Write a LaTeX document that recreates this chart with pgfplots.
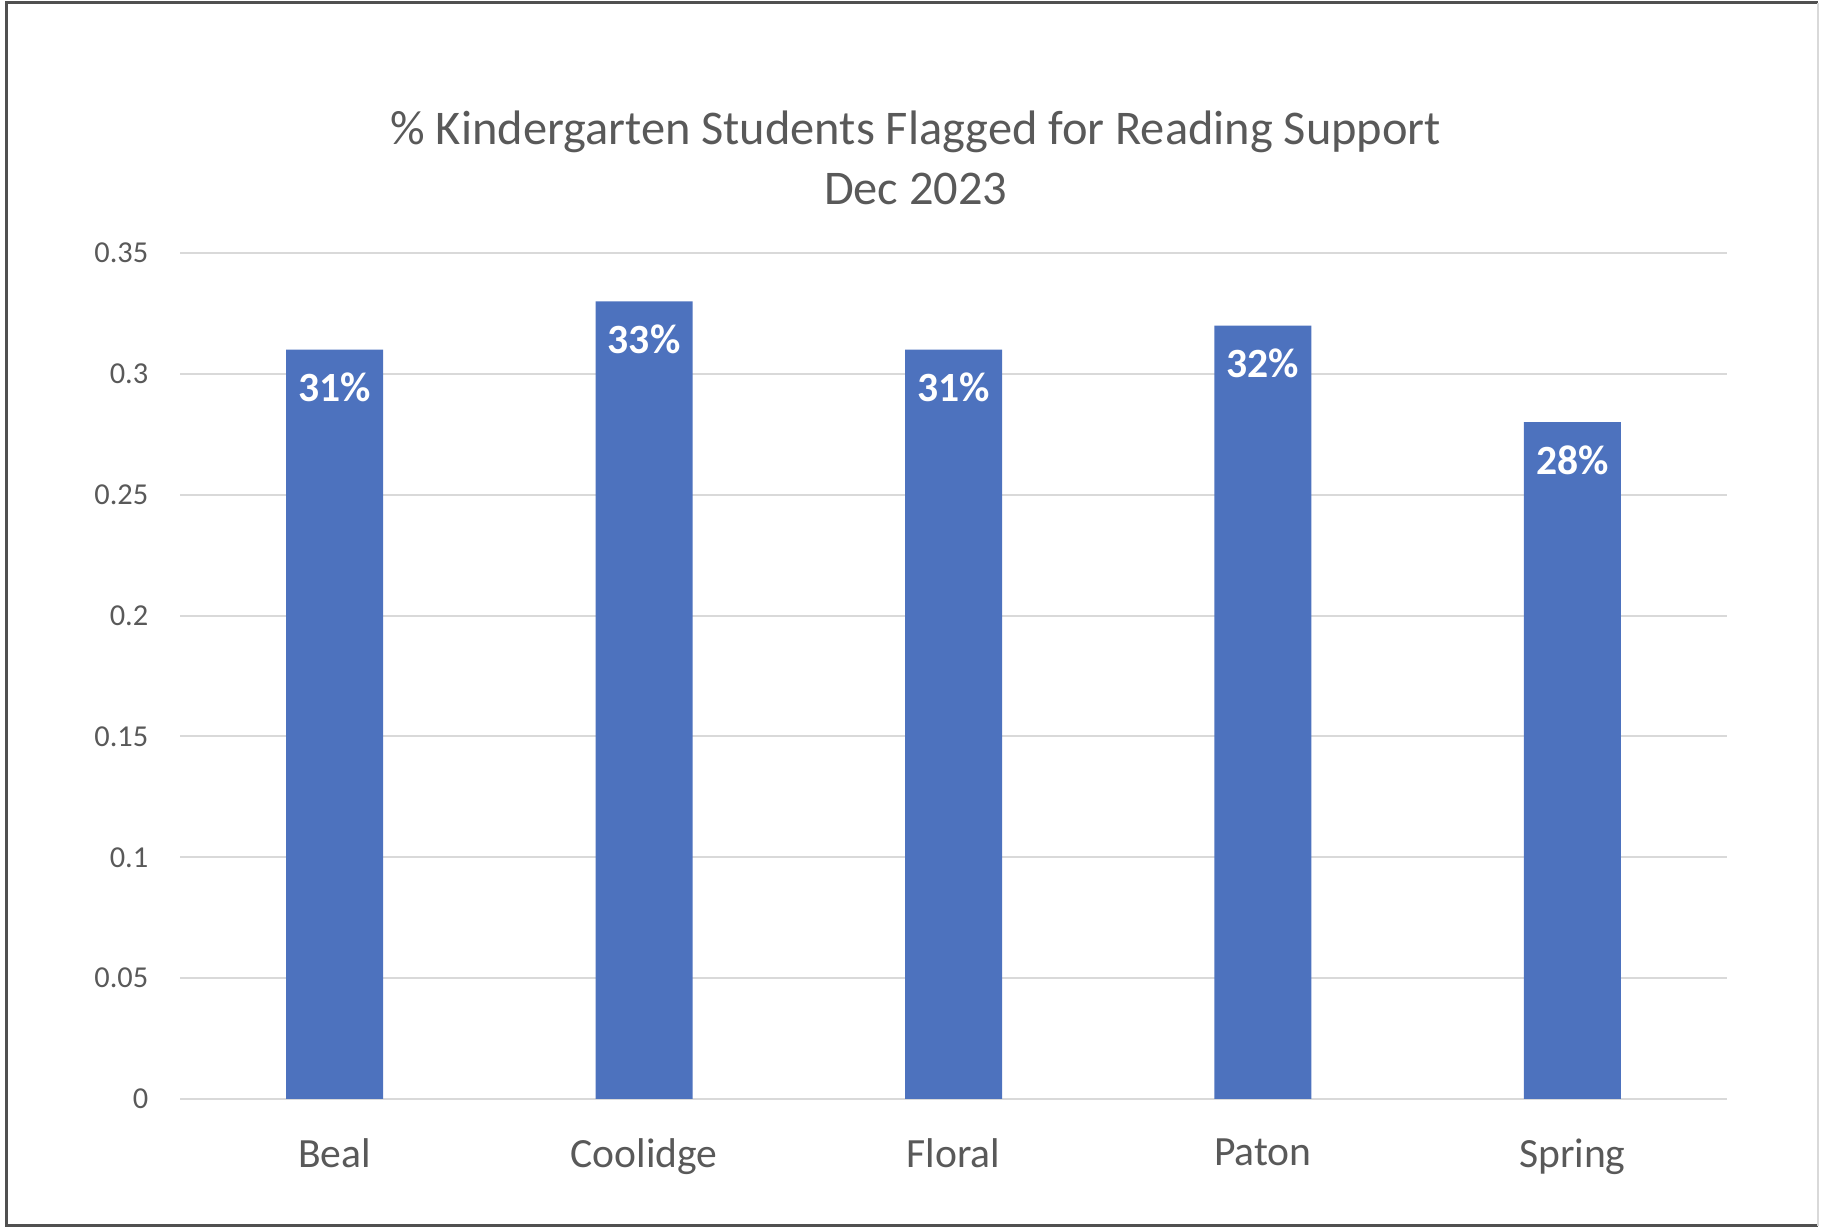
\documentclass[border=0pt]{standalone}
\usepackage{pgfplots}
\pgfplotsset{compat=1.18}
\usepackage{fontspec}
\setmainfont{Carlito}
\definecolor{barblue}{HTML}{4D72BE}
\definecolor{txt}{HTML}{595959}
\definecolor{gridc}{HTML}{D9D9D9}
\definecolor{framec}{HTML}{505050}
\begin{document}
\begin{tikzpicture}
\useasboundingbox (0,0) rectangle (455.25pt,307.25pt);
\draw[framec, line width=0.75pt] (454.5pt,306.5pt) -- (1.5pt,306.5pt) -- (1.5pt,0.75pt) -- (454.5pt,0.75pt);
\draw[gray!30, line width=0.5pt] (454.5pt,0.75pt) -- (454.5pt,306.5pt);
\begin{axis}[
  at={(45pt,32.5pt)}, anchor=south west,
  scale only axis, width=386.75pt, height=211.5pt,
  xmin=-0.5, xmax=4.5, ymin=0, ymax=0.35,
  axis line style={draw=none},
  ymajorgrids, grid style={gridc, line width=0.5pt},
  ybar, bar width=24.25pt,
  xtick={0,1,2,3,4},
  xticklabels={Beal,Coolidge,Floral,Paton,Spring},
  ytick={0,0.05,0.1,0.15,0.2,0.25,0.3,0.35},
  yticklabels={0,0.05,0.1,0.15,0.2,0.25,0.3,0.35},
  major tick length=0,
  tick style={draw=none},
  yticklabel style={font=\fontsize{7.6}{9}\selectfont, text=txt, xshift=-4.4pt},
  xticklabel style={font=\fontsize{10.4}{12}\selectfont, text=txt, yshift=-6.4pt},
  title={\% Kindergarten Students Flagged for Reading Support\\Dec 2023},
  title style={font=\fontsize{12.1}{15}\selectfont, text=txt, align=center,
    at={(axis description cs:0.4756,1.084)}, anchor=center},
  nodes near coords,
  point meta=explicit symbolic,
  nodes near coords style={anchor=north, font=\bfseries\fontsize{10.4}{12}\selectfont, text=white, yshift=-2.3pt},
]
\addplot[fill=barblue, draw=none] coordinates {
  (0,0.31) [31\%]
  (1,0.33) [33\%]
  (2,0.31) [31\%]
  (3,0.32) [32\%]
  (4,0.28) [28\%]
};
\end{axis}
\end{tikzpicture}
\end{document}
